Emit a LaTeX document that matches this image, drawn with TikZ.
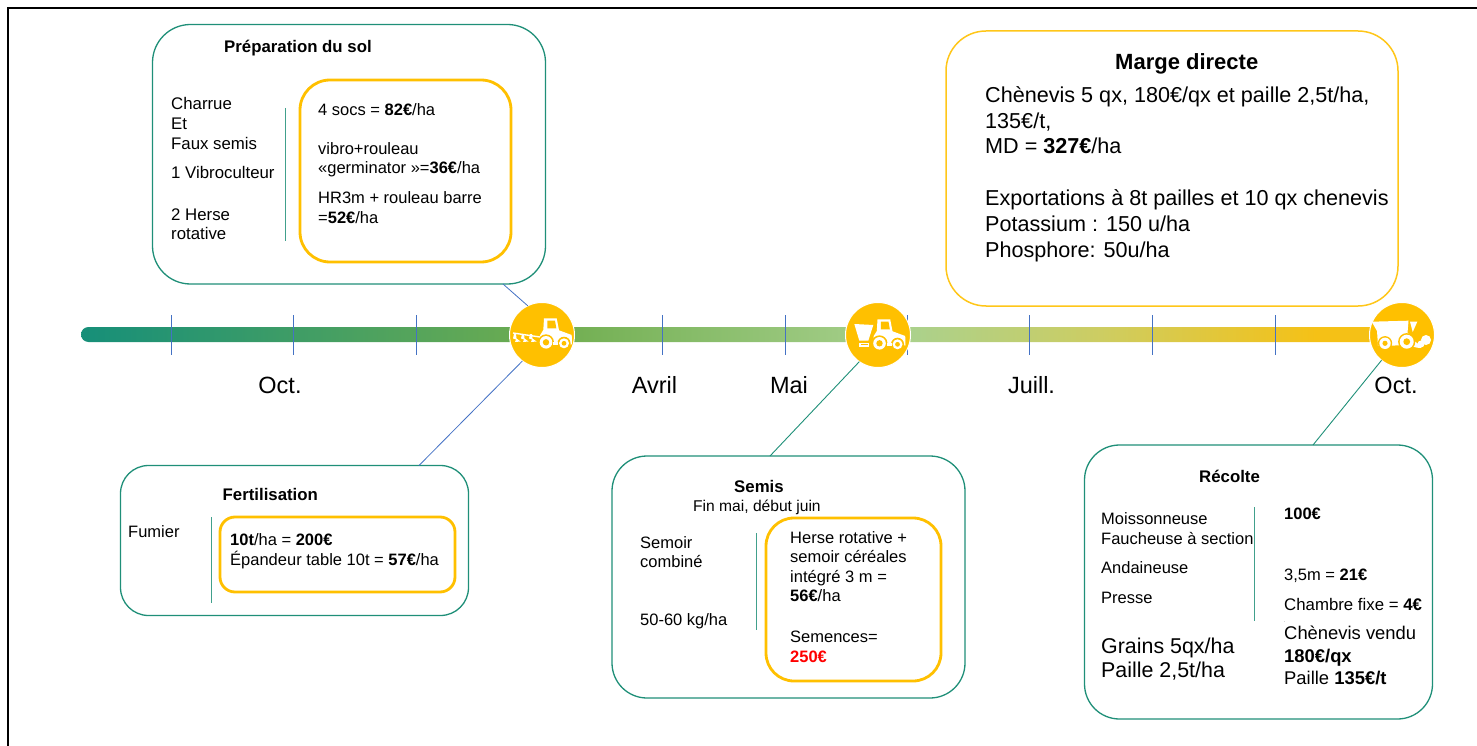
\documentclass[tikz,border=0pt]{standalone}
\usepackage{fontspec}
\setmainfont{Liberation Sans}
\definecolor{teal1}{HTML}{1F8F78}
\definecolor{gold}{HTML}{FFC000}
\definecolor{bluel}{HTML}{4472C4}
\definecolor{c0}{HTML}{168F79}
\definecolor{c1}{HTML}{6FAD4F}
\definecolor{c2}{HTML}{A9D18E}
\definecolor{c3}{HTML}{CDCD62}
\definecolor{c4}{HTML}{F5C116}
\pgfdeclarehorizontalshading{timebar}{100bp}{
  color(0bp)=(c0);
  color(25bp)=(c0);
  color(42.8bp)=(c1);
  color(56.2bp)=(c2);
  color(63.8bp)=(c3);
  color(72bp)=(c4);
  color(75bp)=(c4);
  color(100bp)=(c4)}
\tikzset{
  outerbox/.style={draw=teal1,line width=1.3pt,rounded corners=#1,anchor=north west,inner sep=0pt,outer sep=0pt,fill=white},
  innerbox/.style={draw=gold,line width=2.8pt,rounded corners=#1,anchor=north west,inner sep=0pt,outer sep=0pt},
  margebox/.style={draw=gold!90!white,line width=1.5pt,rounded corners=#1,anchor=north west,inner sep=0pt,outer sep=0pt},
  txt/.style={anchor=base west,inner sep=0pt,font=\fontsize{16.5}{19}\selectfont},
  ltxt/.style={txt,font=\fontsize{16.8}{19}\selectfont},
  btxt/.style={txt,font=\fontsize{18.4}{21}\selectfont},
  mtxt/.style={txt,font=\fontsize{21.6}{25}\selectfont},
  gtxt/.style={txt,font=\fontsize{21.4}{25}\selectfont},
  ttl/.style={txt,font=\fontsize{16.8}{19}\selectfont\bfseries},
  month/.style={anchor=base,inner sep=0pt,font=\fontsize{23.5}{27}\selectfont},
  hub/.style={circle,fill=gold,draw=white,line width=1pt,minimum size=65pt,inner sep=0pt,outer sep=0pt},
  tick/.style={bluel,line width=0.7pt},
  sep/.style={teal1!85!white,line width=1pt},
  bluelink/.style={bluel,line width=0.8pt},
  teallink/.style={teal1,line width=0.9pt},
}
\newcommand{\tractorbody}[1]{%
  \begin{scope}[shift={#1}]
    \fill[white] (-2,-24) -- (10.7,-24) -- (13,-12) -- (25.7,-7.3) -- (26,2) -- (8,2) -- (-6,0) -- (-6,-7) -- (-2.7,-12.3) -- cycle;
    \fill[gold] (1.3,-21.7) -- (9,-21.7) -- (10.3,-14) -- (1.3,-14) -- cycle;
    \fill[gold] (0,0) circle (8);
    \fill[gold] (18,1) circle (6.6);
    \fill[white] (7,0) rectangle (12,2.2);
    \fill[white] (0,0) circle (6.3);
    \fill[gold] (0,0) circle (3.2);
    \fill[white] (18,1) circle (5);
    \fill[gold] (18,1) circle (2.4);
  \end{scope}}
\begin{document}
\begin{tikzpicture}[x=1pt,y=-1pt]
\useasboundingbox (0,0) rectangle (1477,746);
\draw[black,line width=2pt] (7.5,746) -- (7.5,8) -- (1477,8);

% boxes
\node[outerbox=38pt,minimum width=393pt,minimum height=259.5pt] (prep) at (152.5,24.5) {};
\node[innerbox=30pt,minimum width=211pt,minimum height=182pt] (prepin) at (300,80) {};
\node[outerbox=28pt,minimum width=348pt,minimum height=150pt] (fert) at (120.5,465.5) {};
\node[innerbox=15pt,minimum width=235pt,minimum height=75pt] (fertin) at (220,517) {};
\node[outerbox=35pt,minimum width=353pt,minimum height=242pt] (semis) at (612,456) {};
\node[innerbox=28pt,minimum width=175pt,minimum height=163pt] (semisin) at (766,518) {};
\node[outerbox=35pt,minimum width=348pt,minimum height=274pt] (recolte) at (1084.5,445) {};
\node[margebox=40pt,minimum width=452pt,minimum height=275pt] (marge) at (946,31) {};

% timeline
\shade[shading=timebar,rounded corners=7.5pt] (81,327) rectangle (1395,342);
\foreach \tx in {171,293,416,662,785,907,1029,1152,1275}
  \draw[tick] (\tx,315) -- (\tx,355);

\node[hub] (h1) at (542,335) {};
\node[hub] (h2) at (878,335) {};
\node[hub] (h3) at (1402,335) {};

% connectors
\coordinate (pa) at (503,284);
\coordinate (fa) at (419,465.5);
\coordinate (sa) at (770,456);
\coordinate (ra) at (1313,445);
\draw[bluelink] (pa) -- (h1.116);
\draw[bluelink] (fa) -- (h1.233);
\draw[teallink] (sa) -- (h2.235);
\draw[teallink] (ra) -- (h3.231);

% separators
\coordinate (s1a) at (285.5,108); \coordinate (s1b) at (285.5,241);
\coordinate (s2a) at (211,517);   \coordinate (s2b) at (211,603);
\coordinate (s3a) at (756.5,533); \coordinate (s3b) at (756.5,630);
\coordinate (s4a) at (1254.5,507);\coordinate (s4b) at (1254.5,621);
\draw[sep] (s1a) -- (s1b);
\draw[sep] (s2a) -- (s2b);
\draw[sep] (s3a) -- (s3b);
\draw[sep] (s4a) -- (s4b);

% icons
\tractorbody{(546,342.3)}
\draw[white,line width=1.4pt] (513,333) -- (540,337);
\foreach \kx in {514,522,530}
  \fill[white] (\kx,334) -- (\kx+2,334) -- (\kx+2.5,338.5) -- (\kx+6.5,341.5) -- (\kx+1,342) -- (\kx+2,339.5) -- (\kx-1,338.5) -- cycle;

\tractorbody{(879.5,343.3)}
\fill[white] (854.3,324) -- (873.3,325) -- (868.3,340.7) -- (859.3,340.7) -- cycle;
\fill[white] (859,342.7) rectangle (869.3,347.3);
\fill[gold] (861,344.2) rectangle (867.5,345.4);

\fill[white] (1371.7,321.7) -- (1408.5,320.7) -- (1407.5,333) -- (1413,337) -- (1412,345) -- (1378,346) -- (1377,331) -- cycle;
\fill[white] (1410,321.7) -- (1417.3,321.7) -- (1412.7,332) -- cycle;
\fill[white] (1410,339) .. controls (1414,339) and (1416,344) .. (1421,345) -- (1421,348) .. controls (1415,348) and (1412,346) .. (1410,345) -- cycle;
\fill[white] (1426,340) circle (5);
\fill[white] (1421,344) circle (3.5);
\fill[gold] (1395.5,346) rectangle (1412,349);
\fill[gold] (1385,343.3) circle (7.2);
\fill[gold] (1406.7,341.7) circle (8.6);
\fill[white] (1385,343.3) circle (5.7);
\fill[gold] (1385,343.3) circle (2.6);
\fill[white] (1406.7,341.7) circle (7);
\fill[gold] (1406.7,341.7) circle (3.4);

% months
\node[month] (m1) at (280,393) {Oct.};
\node[month] (m2) at (654.5,393) {Avril};
\node[month] (m3) at (789,393) {Mai};
\node[month] (m4) at (1031.5,393) {Juill.};
\node[month] (m5) at (1396,393) {Oct.};

% Preparation
\node[ttl] (p0) at (224,53) {Préparation du sol};
\node[ltxt] (p1) at (171,110) {Charrue};
\node[ltxt] (p2) at (171,130) {Et};
\node[ltxt] (p3) at (171,150) {Faux semis};
\node[ltxt] (p4) at (171,179) {1 Vibroculteur};
\node[ltxt] (p5) at (171,220) {2 Herse};
\node[ltxt] (p6) at (171,240) {rotative};
\node[txt] (p7) at (318,116) {4 socs = \textbf{82€}/ha};
\node[txt] (p8) at (318,155) {vibro+rouleau};
\node[txt] (p9) at (318,174) {«germinator »=\textbf{36€}/ha};
\node[txt] (p10) at (318,204) {HR3m + rouleau barre};
\node[txt] (p11) at (318,223) {=\textbf{52€}/ha};

% Fertilisation
\node[ttl] (f0) at (222.5,500) {Fertilisation};
\node[txt] (f1) at (128,537) {Fumier};
\node[txt] (f2) at (230,545) {\textbf{10t}/ha = \textbf{200€}};
\node[txt] (f3) at (230,565) {Épandeur table 10t = \textbf{57€}/ha};

% Semis
\node[ttl] (s0) at (734,492) {Semis};
\node[txt,font=\fontsize{15.6}{19}\selectfont] (s1) at (693,511) {Fin mai, début juin};
\node[txt] (s2) at (640,548) {Semoir};
\node[txt] (s3) at (640,567) {combiné};
\node[txt] (s4) at (640,625) {50-60 kg/ha};
\node[txt] (s5) at (790,543) {Herse rotative +};
\node[txt] (s6) at (790,562) {semoir céréales};
\node[txt] (s7) at (790,582) {intégré 3 m =};
\node[txt] (s8) at (790,601) {\textbf{56€}/ha};
\node[txt] (s9) at (790,642) {Semences=};
\node[txt] (s10) at (790,662) {\textcolor{red}{\textbf{250€}}};

% Recolte
\node[ttl] (r0) at (1199,482) {Récolte};
\node[txt] (r1) at (1101,524) {Moissonneuse};
\node[txt] (r2) at (1101,544) {Faucheuse à section};
\node[txt] (r3) at (1101,573) {Andaineuse};
\node[txt] (r4) at (1101,603) {Presse};
\node[gtxt] (r5) at (1101,653) {Grains 5qx/ha};
\node[gtxt] (r6) at (1101,677) {Paille 2,5t/ha};
\node[txt] (r7) at (1284,519) {\textbf{100€}};
\node[txt] (r8) at (1284,580) {3,5m = \textbf{21€}};
\node[ltxt] (r9) at (1284,610) {Chambre fixe = \textbf{4€}};
\node[txt,font=\fontsize{4}{5}\selectfont] (r10) at (1284,622) {.};
\node[btxt] (r11) at (1284,639) {Chènevis vendu};
\node[btxt] (r12) at (1284,662) {\textbf{180€/qx}};
\node[btxt] (r13) at (1284,684) {Paille \textbf{135€/t}};

% Marge
\node[txt,font=\fontsize{22}{25}\selectfont\bfseries] (g0) at (1115,70) {Marge directe};
\node[mtxt] (g1) at (985,103) {Chènevis 5 qx, 180€/qx et paille 2,5t/ha,};
\node[mtxt] (g2) at (985,129) {135€/t,};
\node[mtxt] (g3) at (985,154) {MD = \textbf{327€}/ha};
\node[mtxt] (g4) at (985,206) {Exportations à 8t pailles et 10 qx chenevis};
\node[mtxt] (g5) at (985,231) {Potassium  : 150 u/ha};
\node[mtxt] (g6) at (985,257) {Phosphore: 50u/ha};
\end{tikzpicture}
\end{document}
